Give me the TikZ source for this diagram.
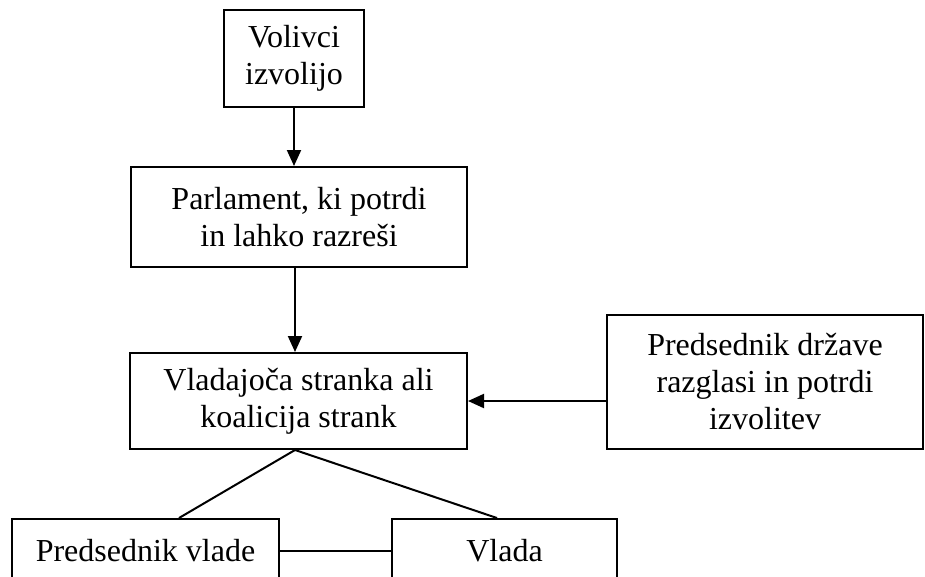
\documentclass[tikz,border=0pt]{standalone}
\usepackage{fontspec}
\setmainfont{Liberation Serif}
\usetikzlibrary{calc,arrows.meta}
\tikzset{okvir/.style={draw=black, line width=2pt, align=center, inner sep=0pt,
           font=\fontsize{32}{37}\selectfont},
     puscica/.style={line width=2pt, -{Triangle[length=16pt,width=14pt]}},
     crta/.style={line width=2pt}
     }

\begin{document}
\begin{tikzpicture}[x=1pt,y=-1pt]
\useasboundingbox (0,0) rectangle (925,576);
\clip (0,0) rectangle (925,576);
% okvirji
\node[okvir, minimum width=140pt, minimum height=97pt] (volivci) at (294,58.5) {Volivci\\izvolijo};
\node[okvir, minimum width=336pt, minimum height=100pt] (parlament) at (299,217) {Parlament, ki potrdi\\in lahko razreši};
\node[okvir, minimum width=337pt, minimum height=96pt] (vladajoca) at (298.5,401) {Vladajoča stranka ali\\koalicija strank};
\node[okvir, minimum width=316pt, minimum height=134pt] (drzava) at (765,382) {Predsednik države\\razglasi in potrdi\\izvolitev};
\node[okvir, minimum width=267pt, minimum height=64pt] (predsednik) at (145.5,551) {Predsednik vlade};
\node[okvir, minimum width=225pt, minimum height=64pt] (vlada) at (504.5,551) {Vlada};
% povezave
\draw[puscica] (volivci.south) -- (volivci.south |- parlament.north);
\draw[puscica] ($(parlament.south)+(-4,0)$) -- ($(parlament.south |- vladajoca.north)+(-4,0)$);
\draw[puscica] (drzava.west |- vladajoca.east) -- (vladajoca.east);
\draw[crta] ($(vladajoca.south)+(-3.5,0)$) -- ($(predsednik.north)+(33.5,0)$);
\draw[crta] ($(vladajoca.south)+(-3.5,0)$) -- ($(vlada.north)+(-7.5,0)$);
\draw[crta] (predsednik.east) -- (vlada.west);
\end{tikzpicture}
\end{document}
